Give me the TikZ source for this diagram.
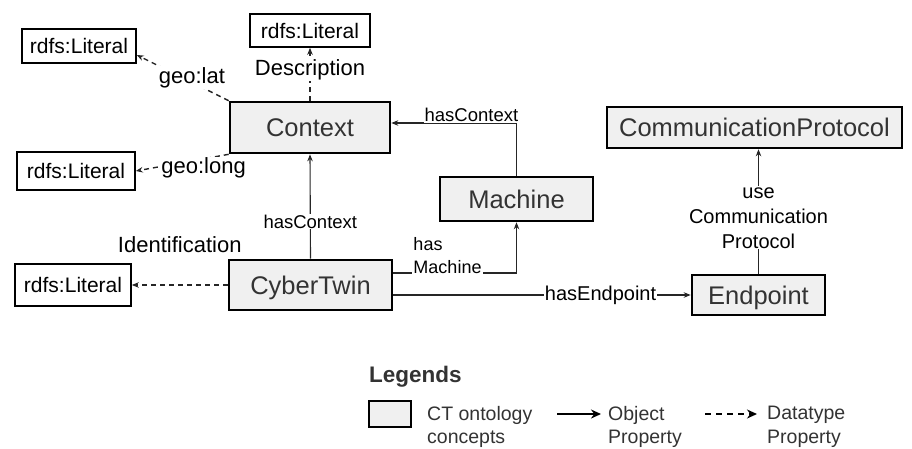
\documentclass[tikz,border=0pt]{standalone}
\usepackage{fontspec}
\setmainfont{Liberation Sans}
\usetikzlibrary{arrows.meta,calc}
\definecolor{conceptfill}{HTML}{F0F0F0}
\definecolor{ink}{HTML}{333333}
\definecolor{wire}{HTML}{262626}

\begin{document}
\begin{tikzpicture}[x=1pt,y=-1pt,
  concept/.style={draw=black, line width=2.6pt, fill=conceptfill, text=ink,
    font=\fontsize{25.5}{30}\selectfont, inner sep=0pt, text height=18.5pt, text depth=0pt},
  literal/.style={draw=black, line width=1.6pt, fill=white,
    font=\fontsize{21}{25}\selectfont, inner sep=0pt, text height=15pt, text depth=0pt},
  objprop/.style={draw=wire, line width=1.1pt, -{Stealth[length=7pt,width=5.5pt]}},
  dataprop/.style={objprop, line width=1.4pt, dash pattern=on 5pt off 4pt},
  lbl/.style={fill=white, inner sep=1pt, font=\fontsize{22}{26}\selectfont},
  slbl/.style={fill=white, inner sep=1pt, font=\fontsize{18.5}{24}\selectfont},
  mlbl/.style={fill=white, inner sep=1pt, align=center, font=\fontsize{20}{25}\selectfont},
  legtxt/.style={inner sep=0pt, align=left, text=ink, font=\fontsize{19.5}{23.5}\selectfont},
]
\useasboundingbox (0,0) rectangle (912,448);

% ontology concepts
\node[concept, minimum width=160pt, minimum height=51pt] (Context) at (310,127.5) {Context};
\node[concept, minimum width=163pt, minimum height=50pt] (CyberTwin) at (310.5,285) {CyberTwin};
\node[concept, minimum width=153pt, minimum height=44pt] (Machine) at (516.5,199) {Machine};
\node[concept, minimum width=133pt, minimum height=40pt] (Endpoint) at (758.5,295) {Endpoint};
\node[concept, minimum width=295pt, minimum height=41pt] (CommProt) at (754.5,127.5) {CommunicationProtocol};

% literal values
\node[literal, minimum width=114pt, minimum height=34pt] (litA) at (79,46) {rdfs:Literal};
\node[literal, minimum width=120pt, minimum height=33pt] (litB) at (310,30.5) {rdfs:Literal};
\node[literal, minimum width=118pt, minimum height=38pt] (litC) at (76,171) {rdfs:Literal};
\node[literal, minimum width=116pt, minimum height=42pt] (litD) at (73,285) {rdfs:Literal};

% datatype properties
\draw[dataprop] (Context.north west) -- node[lbl, pos=0.40, yshift=5pt] {geo:lat} ([yshift=-9pt]litA.east);
\draw[dataprop] (Context.north) -- node[lbl, pos=0.58] {Description} (litB.south);
\draw[dataprop] (Context.south west) -- node[lbl, pos=0.27, yshift=-9pt] {geo:long} (litC.east);
\draw[dataprop] (CyberTwin.west) -- node[lbl, midway, yshift=40pt] {Identification} (litD.east);

% object properties
\draw[objprop] (CyberTwin.north) -- node[slbl, pos=0.355] {hasContext} (Context.south);
\draw[objprop] (Machine.north) |- node[slbl, pos=0.68, yshift=8pt] {hasContext} ([yshift=4.5pt]Context.east);
\draw[objprop] ([yshift=12pt]CyberTwin.east) -| node[slbl, pos=0.22, yshift=17.5pt, align=left,
  font=\fontsize{18}{23}\selectfont] {has\\Machine} (Machine.south);
\draw[objprop] ([yshift=-10pt]CyberTwin.east) -- node[fill=white, inner sep=1pt,
  font=\fontsize{20}{24}\selectfont, pos=0.697] {hasEndpoint} (Endpoint.west);
\draw[objprop] (Endpoint.north) -- node[mlbl, pos=0.449] {use\\Communication\\Protocol} (Endpoint.north |- CommProt.south);

% legend
\node[anchor=west, inner sep=0pt, text=ink, font=\bfseries\fontsize{22.5}{26}\selectfont] (legtitle) at (369,377) {Legends};
\node[concept, minimum width=42pt, minimum height=26pt] (legbox) at (390,414) {};
\node[legtxt, anchor=north west] (legconcept) at (427,406) {CT ontology\\concepts};
\coordinate (objA) at (557,414);
\coordinate (objB) at (601,414);
\draw[draw=black, line width=1.8pt, -{Stealth[length=10pt,width=9pt]}] (objA) -- (objB);
\node[legtxt, anchor=north west] (legobj) at (608,406) {Object\\Property};
\coordinate (datA) at (705,414);
\coordinate (datB) at (757,414);
\draw[draw=black, line width=1.8pt, dash pattern=on 6pt off 5pt, -{Stealth[length=10pt,width=9pt]}] (datA) -- (datB);
\node[legtxt, anchor=north west] (legdat) at (767,406) {Datatype\\Property};
\end{tikzpicture}
\end{document}
